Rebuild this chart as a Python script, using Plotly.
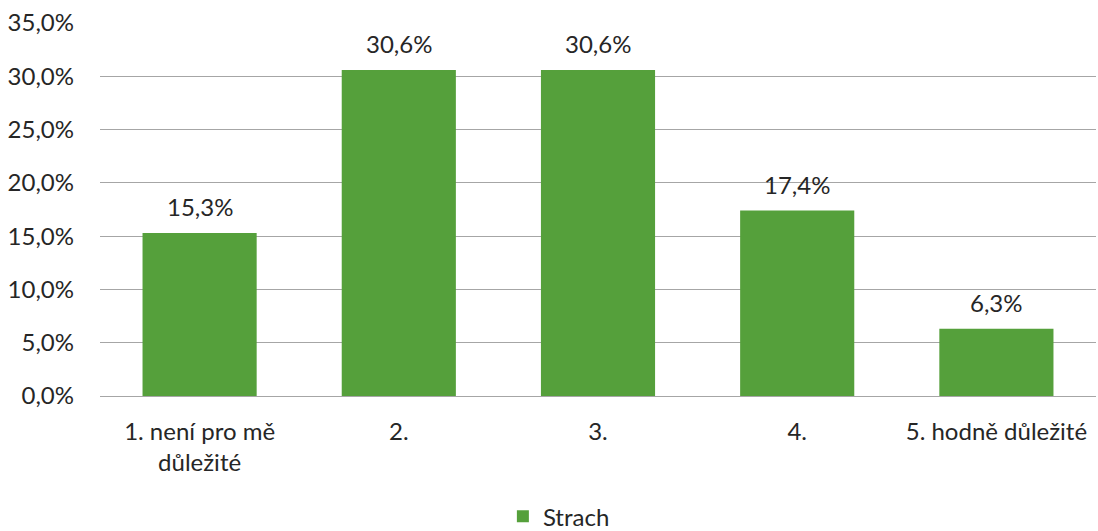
import plotly.graph_objects as go

categories = ["1. není pro mě<br>důležité", "2.", "3.", "4.", "5. hodně důležité"]
values = [0.153, 0.306, 0.306, 0.174, 0.063]
series_name = "Strach"
y_ticks = [0, 0.05, 0.10, 0.15, 0.20, 0.25, 0.30, 0.35]

FONT = "Lato, 'Open Sans', sans-serif"
TXT = "#262626"
FS = 24

fig = go.Figure(go.Bar(
    x=categories, y=values, name=series_name,
    marker=dict(color="#55A03B", line=dict(width=0)),
))

for i, v in enumerate(values):
    fig.add_annotation(x=i, y=v, text=f"{v*100:.1f}%".replace(".", ","),
                       showarrow=False, yanchor="bottom", yshift=10,
                       font=dict(family=FONT, size=FS, color=TXT))

fig.update_layout(
    width=1098, height=531,
    margin=dict(l=100, r=2, t=23, b=135, autoexpand=False),
    paper_bgcolor="white", plot_bgcolor="white",
    separators=", ",
    bargap=0.427,
    font=dict(family=FONT, size=FS, color=TXT),
    showlegend=True,
    legend=dict(orientation="h", xref="container", yref="container",
                x=0.509, y=0.027, xanchor="center", yanchor="middle",
                itemwidth=30,
                font=dict(family=FONT, size=FS, color=TXT)),
    xaxis=dict(showgrid=False, showline=True, linecolor="#A6A6A6", linewidth=1.3,
               ticks="", automargin=False, ticklabelstandoff=14,
               tickfont=dict(family=FONT, size=FS, color=TXT)),
    yaxis=dict(range=[0, 0.35], tickvals=y_ticks, tickformat=".1%",
               showgrid=True, gridcolor="#A6A6A6", gridwidth=1.3, automargin=False,
               zeroline=False, showline=False, ticks="", ticklabelstandoff=25,
               tickfont=dict(family=FONT, size=FS, color=TXT)),
)

fig.write_html("out.html", config={"displayModeBar": False},
               post_script="document.body.style.margin='0';")
